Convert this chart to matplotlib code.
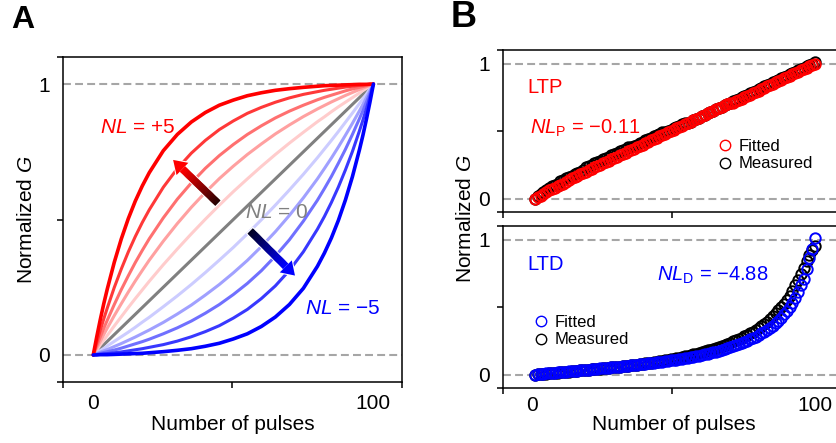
import numpy as np
import matplotlib
matplotlib.use('Agg')
import matplotlib.pyplot as plt
from matplotlib.patches import Polygon
from matplotlib.transforms import IdentityTransform
from matplotlib.lines import Line2D
from matplotlib.ticker import FixedLocator
from matplotlib.colors import to_rgb

plt.rcParams['font.family'] = ['Liberation Sans', 'DejaVu Sans']
plt.rcParams['mathtext.fontset'] = 'custom'
plt.rcParams['mathtext.rm'] = 'Liberation Sans'
plt.rcParams['mathtext.it'] = 'Liberation Sans:italic'
plt.rcParams['mathtext.bf'] = 'Liberation Sans:bold'

# ---- panel A: normalized conductance vs pulse for NL = +5 ... -5
pulses_a = [0, 1.25, 2.5, 3.75, 5, 7.5, 10, 12.5, 15, 17.5, 20, 25, 30, 35, 40, 45, 50,
            55, 60, 65, 70, 75, 80, 82.5, 85, 87.5, 90, 92.5, 95, 96.25, 97.5, 98.75, 100]
g_nl_p5 = [0, 0.067, 0.130, 0.189, 0.243, 0.342, 0.428, 0.503, 0.568, 0.624, 0.673, 0.754, 0.814,
           0.860, 0.895, 0.922, 0.941, 0.957, 0.968, 0.977, 0.983, 0.988, 0.992, 0.994, 0.995,
           0.996, 0.997, 0.998, 0.999, 0.999, 0.999, 1.000, 1]
g_nl_p4 = [0, 0.046, 0.091, 0.133, 0.173, 0.249, 0.317, 0.380, 0.437, 0.489, 0.536, 0.619, 0.688,
           0.745, 0.792, 0.832, 0.864, 0.892, 0.914, 0.933, 0.949, 0.962, 0.972, 0.977, 0.981,
           0.985, 0.989, 0.992, 0.995, 0.996, 0.998, 0.999, 1]
g_nl_p3 = [0, 0.034, 0.066, 0.098, 0.128, 0.186, 0.241, 0.292, 0.341, 0.386, 0.429, 0.506, 0.575,
           0.635, 0.689, 0.736, 0.777, 0.814, 0.846, 0.875, 0.900, 0.922, 0.942, 0.951, 0.959,
           0.967, 0.975, 0.982, 0.988, 0.991, 0.994, 0.997, 1]
g_nl_p2 = [0, 0.025, 0.050, 0.075, 0.099, 0.145, 0.189, 0.232, 0.273, 0.312, 0.350, 0.420, 0.485,
           0.545, 0.600, 0.651, 0.697, 0.740, 0.779, 0.816, 0.849, 0.880, 0.908, 0.921, 0.934,
           0.946, 0.958, 0.969, 0.980, 0.985, 0.990, 0.995, 1]
g_nl_p1 = [0, 0.018, 0.037, 0.054, 0.072, 0.107, 0.141, 0.175, 0.208, 0.240, 0.272, 0.333, 0.391,
           0.447, 0.501, 0.553, 0.603, 0.650, 0.696, 0.740, 0.782, 0.822, 0.861, 0.879, 0.898,
           0.916, 0.933, 0.950, 0.967, 0.976, 0.984, 0.992, 1]
pulses_lin = [0, 100]
g_nl_0 = [0, 1]
g_nl_m1 = [0, 0.008, 0.016, 0.024, 0.033, 0.050, 0.067, 0.084, 0.102, 0.121, 0.139, 0.178, 0.218,
           0.260, 0.304, 0.350, 0.397, 0.447, 0.499, 0.553, 0.609, 0.667, 0.728, 0.760, 0.792,
           0.825, 0.859, 0.893, 0.928, 0.946, 0.963, 0.982, 1]
g_nl_m2 = [0, 0.005, 0.010, 0.015, 0.020, 0.031, 0.042, 0.054, 0.066, 0.079, 0.092, 0.120, 0.151,
           0.184, 0.221, 0.260, 0.303, 0.349, 0.400, 0.455, 0.515, 0.580, 0.650, 0.688, 0.727,
           0.768, 0.811, 0.855, 0.901, 0.925, 0.950, 0.975, 1]
g_nl_m3 = [0, 0.003, 0.006, 0.009, 0.012, 0.018, 0.025, 0.033, 0.041, 0.049, 0.058, 0.078, 0.100,
           0.125, 0.154, 0.186, 0.223, 0.264, 0.311, 0.365, 0.425, 0.494, 0.571, 0.614, 0.659,
           0.708, 0.759, 0.814, 0.872, 0.902, 0.934, 0.966, 1]
g_nl_m4 = [0, 0.001, 0.002, 0.004, 0.005, 0.008, 0.011, 0.015, 0.019, 0.023, 0.028, 0.038, 0.051,
           0.067, 0.086, 0.108, 0.136, 0.168, 0.208, 0.255, 0.312, 0.381, 0.464, 0.511, 0.563,
           0.620, 0.683, 0.751, 0.827, 0.867, 0.909, 0.954, 1]
g_nl_m5 = [0, 0.000, 0.001, 0.001, 0.001, 0.002, 0.003, 0.004, 0.005, 0.006, 0.008, 0.012, 0.017,
           0.023, 0.032, 0.043, 0.059, 0.078, 0.105, 0.140, 0.186, 0.246, 0.327, 0.376, 0.432,
           0.497, 0.572, 0.658, 0.757, 0.811, 0.870, 0.933, 1]

# ---- panel B: measured vs fitted (pulse 1..100)
pulses_b = list(range(1, 101))
ltp_fitted = [
    0.00, 0.01, 0.02, 0.03, 0.05, 0.06, 0.07, 0.08, 0.09, 0.10,
    0.11, 0.12, 0.14, 0.15, 0.16, 0.17, 0.18, 0.19, 0.20, 0.21,
    0.22, 0.23, 0.24, 0.25, 0.26, 0.27, 0.28, 0.29, 0.30, 0.31,
    0.32, 0.33, 0.34, 0.35, 0.36, 0.37, 0.38, 0.39, 0.40, 0.41,
    0.42, 0.43, 0.44, 0.45, 0.46, 0.47, 0.48, 0.49, 0.50, 0.51,
    0.52, 0.53, 0.54, 0.55, 0.56, 0.57, 0.58, 0.59, 0.60, 0.61,
    0.62, 0.63, 0.64, 0.65, 0.66, 0.67, 0.68, 0.69, 0.70, 0.71,
    0.71, 0.72, 0.73, 0.74, 0.75, 0.76, 0.77, 0.78, 0.79, 0.80,
    0.81, 0.82, 0.83, 0.84, 0.85, 0.86, 0.87, 0.88, 0.89, 0.90,
    0.91, 0.92, 0.93, 0.94, 0.95, 0.96, 0.97, 0.98, 0.99, 1.00]
ltp_measured = [
    0.00, 0.02, 0.03, 0.05, 0.06, 0.08, 0.09, 0.10, 0.11, 0.13,
    0.14, 0.15, 0.16, 0.17, 0.18, 0.19, 0.20, 0.21, 0.23, 0.24,
    0.25, 0.26, 0.27, 0.28, 0.29, 0.30, 0.31, 0.32, 0.33, 0.34,
    0.35, 0.36, 0.37, 0.38, 0.38, 0.39, 0.40, 0.41, 0.42, 0.43,
    0.44, 0.45, 0.46, 0.47, 0.48, 0.49, 0.49, 0.50, 0.51, 0.52,
    0.53, 0.54, 0.55, 0.56, 0.56, 0.57, 0.58, 0.59, 0.60, 0.61,
    0.62, 0.63, 0.64, 0.65, 0.66, 0.67, 0.68, 0.69, 0.70, 0.71,
    0.72, 0.73, 0.74, 0.75, 0.76, 0.77, 0.78, 0.79, 0.80, 0.81,
    0.82, 0.83, 0.84, 0.85, 0.86, 0.87, 0.88, 0.89, 0.90, 0.91,
    0.92, 0.93, 0.94, 0.95, 0.96, 0.97, 0.98, 0.99, 1.00, 1.01]
ltd_fitted = [
    0.000, 0.002, 0.004, 0.006, 0.008, 0.010, 0.011, 0.013, 0.015, 0.017,
    0.019, 0.021, 0.023, 0.025, 0.027, 0.029, 0.031, 0.033, 0.035, 0.037,
    0.039, 0.041, 0.043, 0.045, 0.047, 0.049, 0.051, 0.053, 0.055, 0.057,
    0.059, 0.061, 0.063, 0.066, 0.068, 0.070, 0.072, 0.075, 0.077, 0.080,
    0.082, 0.085, 0.087, 0.090, 0.093, 0.096, 0.099, 0.102, 0.105, 0.108,
    0.111, 0.114, 0.117, 0.121, 0.124, 0.128, 0.132, 0.136, 0.140, 0.144,
    0.149, 0.154, 0.159, 0.164, 0.169, 0.175, 0.181, 0.187, 0.194, 0.201,
    0.208, 0.216, 0.224, 0.232, 0.241, 0.250, 0.260, 0.270, 0.281, 0.292,
    0.304, 0.317, 0.330, 0.345, 0.360, 0.380, 0.400, 0.420, 0.445, 0.470,
    0.500, 0.530, 0.570, 0.610, 0.660, 0.710, 0.780, 0.860, 0.930, 1.010]
ltd_measured = [
    0.000, 0.001, 0.003, 0.005, 0.007, 0.009, 0.010, 0.012, 0.014, 0.016,
    0.018, 0.020, 0.022, 0.024, 0.026, 0.028, 0.030, 0.032, 0.034, 0.036,
    0.038, 0.040, 0.042, 0.044, 0.046, 0.048, 0.050, 0.052, 0.054, 0.056,
    0.058, 0.060, 0.063, 0.065, 0.068, 0.070, 0.073, 0.076, 0.079, 0.082,
    0.085, 0.088, 0.091, 0.094, 0.098, 0.101, 0.105, 0.109, 0.113, 0.117,
    0.121, 0.125, 0.130, 0.134, 0.139, 0.144, 0.149, 0.154, 0.160, 0.166,
    0.172, 0.178, 0.184, 0.191, 0.198, 0.205, 0.212, 0.220, 0.228, 0.236,
    0.245, 0.254, 0.263, 0.273, 0.283, 0.294, 0.305, 0.317, 0.329, 0.345,
    0.360, 0.375, 0.390, 0.410, 0.430, 0.452, 0.475, 0.500, 0.525, 0.550,
    0.580, 0.620, 0.660, 0.700, 0.745, 0.790, 0.840, 0.885, 0.920, 0.950]

FS = 15
DASH_COLOR = '#a6a6a6'


def style_axes(ax, xlim, xlabels=True, pad_x=8.5):
    ax.set_xlim(*xlim)
    ax.set_ylim(-0.1, 1.1)
    ax.xaxis.set_major_locator(FixedLocator([0, 100]))
    ax.xaxis.set_minor_locator(FixedLocator([xlim[0], (xlim[0] + xlim[1]) / 2, xlim[1]]))
    ax.yaxis.set_major_locator(FixedLocator([0, 1]))
    ax.yaxis.set_minor_locator(FixedLocator([-0.1, 0.5, 1.1]))
    ax.set_yticklabels(['0', '1'])
    if xlabels:
        ax.set_xticklabels(['0', '100'])
    ax.tick_params(which='major', length=0, labelsize=FS)
    ax.tick_params(axis='x', which='major', pad=pad_x, labelbottom=xlabels)
    ax.tick_params(axis='y', which='major', pad=9.5)
    ax.tick_params(which='minor', length=4, width=1.1, direction='out')
    for s in ax.spines.values():
        s.set_linewidth(1.1)
    for yy in (0, 1):
        ax.axhline(yy, color=DASH_COLOR, lw=1.5, ls=(0, (3.8, 2.0)), zorder=1)


def grad_arrow(ax, tail, tip, c_tail, c_head, shaft_w=7.5, head_w=17, head_l=13, n=40):
    # gradient arrow, built in display pixels so its shape is not stretched
    p0 = ax.transData.transform(tail)
    p1 = ax.transData.transform(tip)
    d = p1 - p0
    u = d / np.hypot(*d)
    nv = np.array([-u[1], u[0]])
    neck = p1 - u * head_l
    c0 = np.array(to_rgb(c_tail))
    c1 = np.array(to_rgb(c_head))
    outline = [p0 + nv * shaft_w / 2, neck + nv * shaft_w / 2, neck + nv * head_w / 2, p1,
               neck - nv * head_w / 2, neck - nv * shaft_w / 2, p0 - nv * shaft_w / 2]
    ax.add_patch(Polygon(outline, closed=True, facecolor='white', edgecolor='white', lw=1.5,
                         transform=IdentityTransform(), zorder=5))
    for i in range(n):
        a = p0 + (neck - p0) * i / n
        b = p0 + (neck - p0) * min(i + 1.6, n) / n
        col = c0 + (c1 - c0) * (i / (n - 1))
        quad = [a + nv * shaft_w / 2, b + nv * shaft_w / 2, b - nv * shaft_w / 2, a - nv * shaft_w / 2]
        ax.add_patch(Polygon(quad, closed=True, facecolor=col, edgecolor='none',
                             transform=IdentityTransform(), zorder=6))
    head = [p1, neck + nv * head_w / 2, neck - nv * head_w / 2]
    ax.add_patch(Polygon(head, closed=True, facecolor=c1, edgecolor='none',
                         transform=IdentityTransform(), zorder=6))


fig = plt.figure(figsize=(8.37, 4.43), dpi=100)

# ---------------- panel A
axA = fig.add_axes([63 / 837, 1 - 382 / 443, 339 / 837, 325 / 443])
style_axes(axA, (-10.8, 110.2))

axA.plot(pulses_lin, g_nl_0, color='#808080', lw=2.2, solid_capstyle='round', zorder=3)
curves = [g_nl_p1, g_nl_m1, g_nl_p2, g_nl_m2, g_nl_p3, g_nl_m3, g_nl_p4, g_nl_m4, g_nl_p5, g_nl_m5]
colors = ['#ffcccc', '#ccccff', '#ffa0a0', '#a0a0ff', '#ff7070', '#7070ff',
          '#ff3838', '#3838ff', '#ff0000', '#0000ff']
widths = [2.2, 2.2, 2.2, 2.2, 2.2, 2.2, 2.2, 2.2, 2.6, 2.6]
for g, c, w in zip(curves, colors, widths):
    axA.plot(pulses_a, g, color=c, lw=w, solid_capstyle='round', solid_joinstyle='round', zorder=3)

axA.text(2.4, 0.818, r'$\mathit{NL}$ = +5', color='#ff0000', fontsize=FS, zorder=7)
axA.text(54.2, 0.507, r'$\mathit{NL}$ = 0', color='#808080', fontsize=FS, zorder=7)
axA.text(75.6, 0.150, r'$\mathit{NL}$ = $-$5', color='#0000ff', fontsize=FS, zorder=7)

grad_arrow(axA, (44.5, 0.56), (28.5, 0.72), '#250000', '#ff0000')
grad_arrow(axA, (56.0, 0.458), (72.0, 0.293), '#000020', '#0000ff')

fig.text(27 / 837, 1 - 219.5 / 443, r'Normalized $\mathit{G}$', rotation=90,
         ha='center', va='center', fontsize=FS)
fig.text(233 / 837, 1 - 425 / 443, 'Number of pulses', ha='center', va='center', fontsize=FS)

# ---------------- panel B
xlim_b = (-10.3, 109.5)
axB1 = fig.add_axes([503 / 837, 1 - 212 / 443, 339 / 837, 162 / 443])
axB2 = fig.add_axes([503 / 837, 1 - 388 / 443, 339 / 837, 162 / 443])
style_axes(axB1, xlim_b, xlabels=False)
style_axes(axB2, xlim_b, pad_x=6)

mk = dict(ls='none', marker='o', mfc='none', ms=7.5, mew=1.4, zorder=3)
axB1.plot(pulses_b, ltp_measured, mec='black', **mk)
axB1.plot(pulses_b, ltp_fitted, mec='#ff0000', **mk)
axB2.plot(pulses_b, ltd_measured, mec='black', **mk)
axB2.plot(pulses_b, ltd_fitted, mec='#0000ff', **mk)

BFS = 14.5
axB1.text(-1.8, 0.785, 'LTP', color='#ff0000', fontsize=BFS)
axB1.text(-0.8, 0.48, r'$\mathit{NL}_{\mathrm{P}}$ = $-$0.11', color='#ff0000', fontsize=BFS)
axB2.text(-1.8, 0.771, 'LTD', color='#0000ff', fontsize=BFS)
axB2.text(44.1, 0.692, r'$\mathit{NL}_{\mathrm{D}}$ = $-$4.88', color='#0000ff', fontsize=BFS)


def marker_legend(ax, fit_color, anchor):
    handles = [Line2D([], [], ls='none', marker='o', mfc='none', mec=fit_color, ms=7.5, mew=1.0),
               Line2D([], [], ls='none', marker='o', mfc='none', mec='black', ms=7.5, mew=1.0)]
    ax.legend(handles, ['Fitted', 'Measured'], loc='upper left', bbox_to_anchor=anchor,
              frameon=False, fontsize=12, handlelength=0.8, handletextpad=0.45,
              labelspacing=0.17, borderpad=0, borderaxespad=0)


marker_legend(axB1, '#ff0000', (0.635, 0.453))
marker_legend(axB2, '#0000ff', (0.092, 0.453))

fig.text(466 / 837, 1 - 219 / 443, r'Normalized $\mathit{G}$', rotation=90,
         ha='center', va='center', fontsize=FS)
fig.text(674 / 837, 1 - 425 / 443, 'Number of pulses', ha='center', va='center', fontsize=FS)

fig.text(11 / 837, 1 - 5 / 443, 'A', fontsize=23, fontweight='bold', ha='left', va='top')
fig.text(451 / 837, 1 - 0 / 443, 'B', fontsize=26, fontweight='bold', ha='left', va='top')

fig.savefig('out.png', dpi=100)
